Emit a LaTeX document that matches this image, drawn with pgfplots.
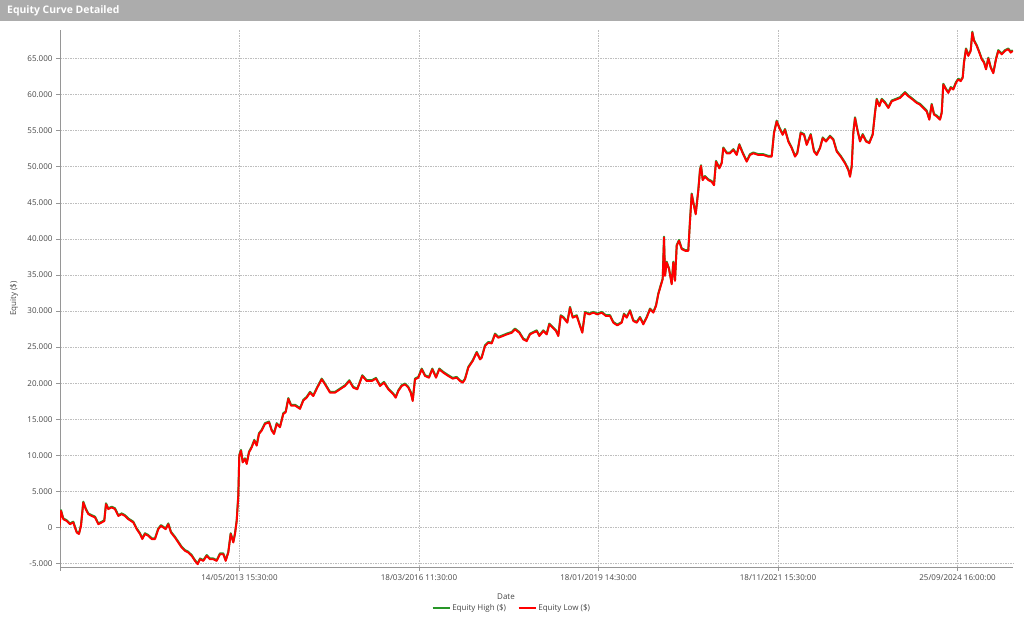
\documentclass[border=0pt]{standalone}
\usepackage{fontspec}
\setmainfont{Open Sans}
\usepackage{pgfplots}
\usepackage{pgfplotstable}
\pgfplotsset{compat=1.18}

\definecolor{titlebar}{RGB}{172,172,172}
\definecolor{eqhigh}{RGB}{40,150,40}
\definecolor{eqlow}{RGB}{255,0,0}
\definecolor{gridgray}{RGB}{190,190,190}
\definecolor{axisgray}{RGB}{150,150,150}
\definecolor{labelgray}{RGB}{70,70,70}

% x is the position along the time axis (bar index scale), y the equity in $
\pgfplotstableread{
x y
59 -460
61 2300
63.3 1150
66.7 900
70 460
73.3 700
76.7 -700
79 -900
81 230
83.3 3470
85.7 2550
88.3 1850
91.7 1600
95 1400
98.3 460
101.7 700
104.3 900
106 3240
108.3 2550
111.7 2780
115 2550
118.3 1600
121.7 1850
125 1600
128.3 1150
133.3 700
136.7 -230
140 -900
142.3 -1600
145 -900
148.3 -1150
151.7 -1600
155 -1600
158.3 -230
161 230
163.3 0
165.7 -230
168.3 460
171 -700
175 -1400
178.3 -2080
181.7 -2780
185 -3240
188.3 -3470
191.7 -3930
195 -4630
197.7 -5090
200 -4400
203.3 -4630
206.7 -3930
210 -4400
213.3 -4400
216.7 -4630
220 -3700
223.3 -3700
225.7 -4630
228.3 -3470
230.7 -900
233.3 -2080
235 -900
236.7 900
238.3 4400
239.3 9950
241 10650
242.7 9030
245 9490
246.7 8800
249 10400
251.7 11100
254.3 12040
256.7 11340
259 12960
261.7 13430
265 14350
269 14580
271.7 13430
274 12960
276.7 14350
280 13890
283.3 15740
285.7 15970
288.3 17830
291 16900
295 16900
300 16440
303.3 17590
306.7 18000
310 18690
313.3 18220
317.3 19380
321.7 20530
325 19840
330 18690
335 18690
340 19150
345 19610
349.3 20300
353.3 19380
357.3 19150
362.3 21000
366.7 20300
371.7 20300
376 20630
380 19610
384 20070
388.3 19150
393.3 18450
395.7 17990
398.3 18910
401.7 19610
405 19840
408.3 19380
410.7 18690
412.7 17530
415 20530
418.3 20760
421.7 21920
425 21000
429 20760
432.3 21920
436 20760
439.3 21920
443.3 21460
448.3 21000
452.7 20630
456.7 20760
460 20300
462.7 20070
465 20530
468.3 22150
472.7 23070
476.7 24230
480 23300
481.7 23520
485 25140
488.3 25600
491.7 25510
495 26760
498.3 26300
502.7 26530
506.7 26760
511.7 26990
515 27460
519.3 26990
523.3 26070
526.7 25830
530 26760
533.3 26990
536.7 27220
539.3 26530
543.3 27220
546.7 26760
549.3 28150
552.7 27690
556 27220
558.3 26530
560.7 29310
563.3 29080
567.3 28380
570 30470
572.7 29080
576.7 29310
580 27920
582.3 26990
585 29770
589.3 29540
593.3 29770
597.3 29540
601.7 29770
606 29310
610 29310
613.3 28380
617.3 28010
621.7 28380
624 29540
626.7 29080
630 30010
633.3 28620
636.7 28380
640 29080
643.3 28150
646.7 29080
650 30240
653.3 29770
656 30700
658.3 32320
660.7 33480
662.7 34410
664 40200
665 34870
666.7 36730
669 35800
671.7 33710
673.3 36730
675 34180
676.7 39040
679 39740
681.7 38580
685 38350
688.3 38350
690 42470
691.7 46170
693.3 45010
695.7 43400
698.3 46700
700 49500
701 50100
702.7 48140
705 48600
708.3 48140
711.7 47900
714 47440
716 50700
719.3 49770
721.7 50470
723.3 52560
726.7 51860
730 51860
733.3 52330
736.7 51630
739.3 53020
742.7 51860
746.7 50700
750 51630
753.3 51860
758.3 51630
763.3 51630
768.3 51400
771.7 51400
774 54650
776.7 56280
779.3 55350
782.7 54420
785 55120
788.3 53490
791.7 52560
795 51400
797.3 51860
800.7 54650
804 54420
806.7 53020
810.7 54420
814 52100
816.7 51630
820 52560
822.7 53950
826 53490
830 54190
833.3 53720
836.7 52100
840.7 51400
845 50470
848.3 49540
850 48600
851.7 50000
853.3 54650
855 56740
857.3 55120
860 53490
862.7 54420
866 53490
869.3 53260
872.7 54420
875 57440
876.7 59300
879.3 58370
881.7 59300
885 58840
888.3 58140
891.7 59070
896 59300
900 59530
905 60230
908.3 59770
912.7 59300
916.7 58840
920 58600
923.3 58140
926.7 57670
929.3 56510
931.7 58600
934 57210
936.7 56980
940 56510
941.7 57440
943.3 61390
946 60700
948.3 60230
950.7 60930
953.3 60700
956 61630
958.3 62090
960.7 61860
962.7 62320
964 64420
966 66280
968.3 65350
970.7 66050
972.3 68600
974 67440
976.7 66740
979.3 65810
981.7 64880
984 64420
986 63490
988.3 65000
990.7 63720
993.3 62950
996 64880
998.3 66050
1001.7 65580
1005 66050
1008.3 66280
1010.7 65810
1012.7 66050
}\equity

\begin{document}
\begin{tikzpicture}[x=1pt,y=1pt]
\useasboundingbox (0,0) rectangle (1024,620);
\fill[titlebar] (0,599) rectangle (1024,620);
\node[anchor=west, text=white, inner sep=0pt,
      font=\fontsize{10.4}{12}\selectfont\bfseries] at (7,609.5) {Equity Curve Detailed};
\begin{axis}[
    at={(60pt,53pt)}, anchor=south west,
    scale only axis,
    width=953pt, height=537pt,
    xmin=60, xmax=1013,
    ymin=-5470, ymax=68950,
    axis x line*=bottom, axis y line*=left,
    axis line style={axisgray, line width=0.8pt, -},
    xtick={60,239.5,419,598.5,778,957.5},
    xticklabels={,14/05/2013 15:30:00,18/03/2016 11:30:00,18/01/2019 14:30:00,18/11/2021 15:30:00,25/09/2024 16:00:00},
    ytick={-5000,0,...,65000},
    scaled y ticks=false,
    /pgf/number format/1000 sep={.},
    /pgf/number format/assume math mode=true,
    tick align=outside,
    major tick length=4pt,
    tick style={axisgray, line width=0.6pt},
    ticklabel style={font=\fontsize{8}{9.6}\selectfont, text=labelgray},
    grid=major,
    major grid style={gridgray, dash pattern=on 1.5pt off 1pt, line width=0.6pt},
    xlabel={Date},
    xlabel style={at={([xshift=-30.5pt,yshift=-30pt]axis description cs:0.5,0)},
        anchor=center, font=\fontsize{8}{9.6}\selectfont, text=labelgray},
    ylabel={Equity (\$)},
    ylabel style={at={([xshift=-46pt]axis description cs:0,0.5)},
        anchor=center, font=\fontsize{8}{9.6}\selectfont, text=labelgray},
    legend columns=2,
    legend style={at={([xshift=-24.5pt,yshift=-41pt]axis description cs:0.5,0)},
        anchor=center, draw=none, fill=none,
        font=\fontsize{8}{9.6}\selectfont,
        /tikz/every even column/.append style={column sep=10pt}},
]
\addplot[draw=eqhigh, line width=2pt, line join=round, yshift=0.8pt, forget plot]
    table[x=x, y=y] {\equity};
\addplot[draw=eqlow, line width=1.9pt, line join=round, forget plot]
    table[x=x, y=y] {\equity};
\addlegendimage{color=eqhigh, line width=1.2pt}
\addlegendentry{\textcolor{labelgray}{Equity High (\$)}}
\addlegendimage{color=eqlow, line width=1.2pt}
\addlegendentry{\textcolor{labelgray}{Equity Low (\$)}}
\end{axis}
\end{tikzpicture}
\end{document}
